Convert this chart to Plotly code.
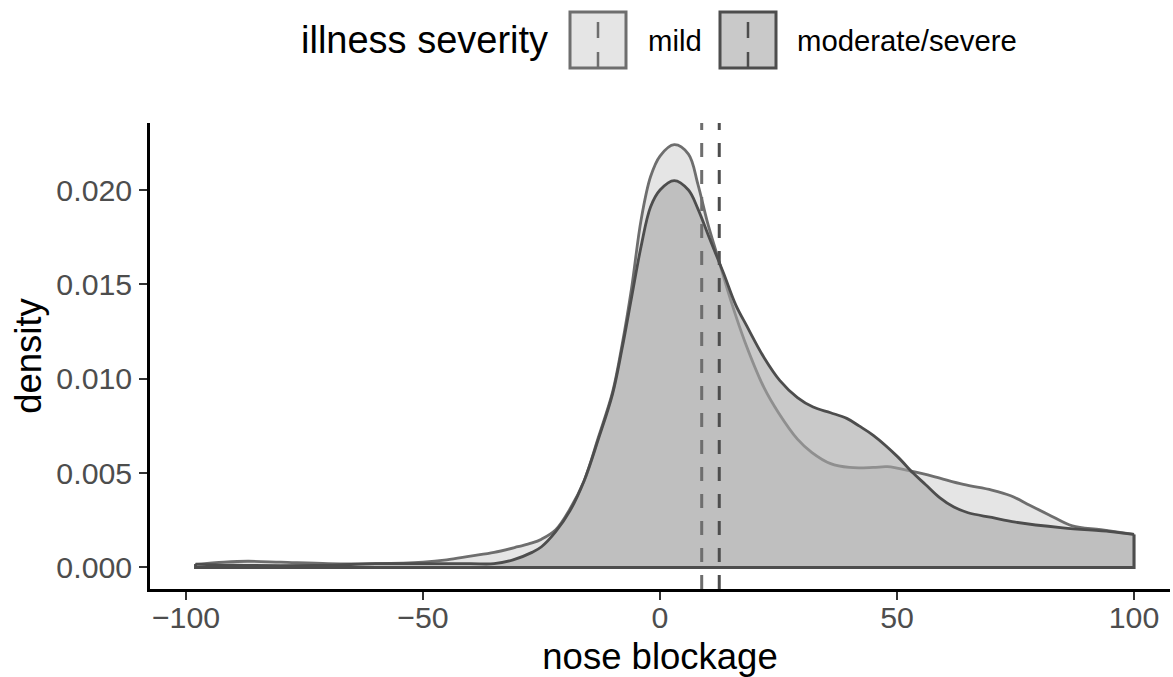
import plotly.graph_objects as go

# ---- data ----
groups = ["mild", "moderate/severe"]

mild_x = [-98, -92, -87, -80, -70, -60, -50, -45, -40, -35, -30, -27, -25, -22, -19, -16, -13, -10, -8, -6, -4, -2, 0, 3, 6, 8, 10, 12, 15, 18, 22, 25, 29, 32, 36, 40, 45, 48, 53, 58, 64, 70, 74, 78, 82, 87, 93, 100]
mild_y = [0.00016, 0.00028, 0.00033, 0.00028, 0.00020, 0.00020, 0.00028, 0.00040, 0.00060, 0.00080, 0.00110, 0.00130, 0.00150, 0.00200, 0.00310, 0.00460, 0.00690, 0.00930, 0.01180, 0.01480, 0.01840, 0.02070, 0.02180, 0.02240, 0.02190, 0.02030, 0.01830, 0.01660, 0.01410, 0.01190, 0.00950, 0.00820, 0.00680, 0.00610, 0.00550, 0.00530, 0.00530, 0.00534, 0.00510, 0.00480, 0.00440, 0.00410, 0.00380, 0.00330, 0.00280, 0.00220, 0.00200, 0.00175]

mod_x = [-98, -90, -80, -70, -60, -50, -40, -35, -31, -27, -25, -22, -19, -16, -13, -10, -8, -6, -4, -2, 0, 3, 6, 8, 10.5, 13.4, 16, 18.3, 22, 25.3, 29, 32.3, 36, 39.4, 42, 45, 50, 53.4, 56, 59, 62, 65, 70, 75, 85, 95, 100]
mod_y = [0.00018, 0.00012, 0.00010, 0.00012, 0.00020, 0.00020, 0.00020, 0.00020, 0.00040, 0.00080, 0.00110, 0.00190, 0.00300, 0.00460, 0.00680, 0.00920, 0.01160, 0.01430, 0.01700, 0.01910, 0.02000, 0.02050, 0.02000, 0.01900, 0.01740, 0.01560, 0.01390, 0.01280, 0.01110, 0.00990, 0.00900, 0.00850, 0.00820, 0.00790, 0.00750, 0.00700, 0.00590, 0.00500, 0.00440, 0.00370, 0.00320, 0.00290, 0.00265, 0.00240, 0.00210, 0.00190, 0.00175]

group_means = [8.8, 12.5]

x_ticks = [-100, -50, 0, 50, 100]
y_ticks = [0.0, 0.005, 0.010, 0.015, 0.020]

x_title = "nose blockage"
y_title = "density"
legend_title = "illness severity"

# ---- styling ----
FONT = "Liberation Sans, Arial, sans-serif"
line_cols = ["#6E6E6E", "#4D4D4D"]
fill_cols = ["rgba(212,212,212,0.6)", "rgba(165,165,165,0.6)"]
key_fills = ["#E5E5E5", "#C9C9C9"]
LW = 2.8
TICK_SIZE = 30.3

W, H = 1173, 677
L, R, T, B = 150, 3, 123, 88

fig = go.Figure()
for name, xs, ys, lc, fc in zip(groups, [mild_x, mod_x], [mild_y, mod_y], line_cols, fill_cols):
    fig.add_trace(go.Scatter(
        x=xs, y=ys, mode="lines", name=name, fill="tozeroy", fillcolor=fc,
        line=dict(color=lc, width=LW, shape="spline", smoothing=1.0),
        showlegend=False, hoverinfo="skip"))
    # full outline: vertical ends and baseline
    fig.add_trace(go.Scatter(
        x=[xs[0], xs[0], xs[-1], xs[-1]], y=[ys[0], 0, 0, ys[-1]], mode="lines",
        line=dict(color=lc, width=LW), showlegend=False, hoverinfo="skip"))

shapes = []
for m, lc in zip(group_means, line_cols):
    shapes.append(dict(type="line", xref="x", yref="paper", x0=m, x1=m, y0=0, y1=1,
                       line=dict(color=lc, width=3, dash="14px,13px")))

# manual legend (pixel -> paper)
pw, ph = W - L - R, H - T - B
def px(xp):
    return (xp - L) / pw
def py(yp):
    return (H - B - yp) / ph

key_x = [570, 720]
key_w = 56
key_top, key_bot = 12, 68
annotations = [dict(text=legend_title, x=px(299), y=py(40), xref="paper", yref="paper",
                    xanchor="left", yanchor="middle", showarrow=False,
                    font=dict(family=FONT, size=38, color="black"))]
label_x = [646, 795]
for i, name in enumerate(groups):
    x0 = key_x[i]
    shapes.append(dict(type="rect", xref="paper", yref="paper", x0=px(x0), x1=px(x0 + key_w),
                       y0=py(key_bot), y1=py(key_top), fillcolor=key_fills[i],
                       line=dict(color=line_cols[i], width=3)))
    shapes.append(dict(type="line", xref="paper", yref="paper", x0=px(x0 + key_w / 2), x1=px(x0 + key_w / 2),
                       y0=py(key_bot), y1=py(key_top),
                       line=dict(color=line_cols[i], width=2.5, dash="16px,14px")))
    annotations.append(dict(text=name, x=px(label_x[i]), y=py(40), xref="paper", yref="paper",
                            xanchor="left", yanchor="middle", showarrow=False,
                            font=dict(family=FONT, size=29.3, color="black")))

axis_common = dict(showline=True, linecolor="black", linewidth=2.5, mirror=False,
                   ticks="outside", ticklen=8, tickwidth=2, tickcolor="#333333",
                   tickfont=dict(family=FONT, size=TICK_SIZE, color="#4D4D4D"),
                   showgrid=False, zeroline=False)

fig.update_layout(
    width=W, height=H,
    margin=dict(l=L, r=R, t=T, b=B, autoexpand=False),
    paper_bgcolor="white", plot_bgcolor="white",
    font=dict(family=FONT),
    shapes=shapes, annotations=annotations,
    showlegend=False,
    xaxis=dict(range=[-107.6, 107.6], tickvals=x_ticks, ticklabelstandoff=-8,
               title=dict(text=x_title, font=dict(family=FONT, size=36.5, color="black"), standoff=12),
               **axis_common),
    yaxis=dict(range=[-0.00114, 0.02355], tickvals=y_ticks, tickformat=".3f", ticklabelstandoff=1,
               title=dict(text=y_title, font=dict(family=FONT, size=36.5, color="black"), standoff=4),
               **axis_common),
)

fig.write_html("out.html", config={"displayModeBar": False},
               post_script="document.body.style.margin='0';")
